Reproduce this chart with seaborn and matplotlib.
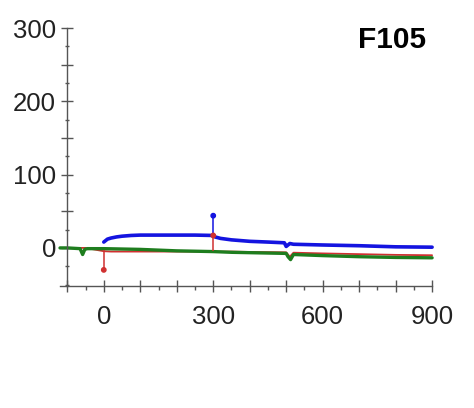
import matplotlib
matplotlib.use("Agg")
import matplotlib.pyplot as plt
import seaborn as sns
import pandas as pd
from matplotlib.ticker import MultipleLocator

# time (s) and signal values
blue_t = [0, 5, 10, 20, 35, 50, 75, 100, 150, 200, 250, 300, 305, 320, 350, 400, 450, 495, 500, 505, 510, 520, 600, 700, 800, 900]
blue_v = [8, 10, 12, 13.5, 15, 16, 17, 17.5, 17.5, 17.5, 17.5, 17, 15, 13, 11, 9, 8, 7, 2, 4, 6, 5, 4, 3, 1.5, 1]

red_t = [-120, -50, 0, 20, 50, 100, 200, 300, 350, 400, 500, 505, 510, 520, 600, 700, 800, 900]
red_v = [0, 0, -4.5, -5, -5, -5, -5, -5, -5, -5.5, -6, -9, -12, -6.5, -7.5, -8.5, -9.5, -10]

green_t = [-120, -100, -65, -58, -52, -45, 0, 50, 100, 150, 200, 300, 350, 400, 500, 505, 512, 520, 600, 700, 800, 900]
green_v = [0, 0, -1, -9, -2, -1, -1, -1.5, -2, -3, -4, -5, -6, -6.5, -7.5, -12, -16, -9, -10.5, -12, -13, -13.5]

# thin spikes: (time, from, to, colour)
spike_t = [0, 300, 300]
spike_from = [-3, 17, -4.5]
spike_to = [-30, 44, 17]
spike_c = ["#d03030", "#1414e0", "#d03030"]

x_ticks = [-100, 0, 100, 200, 300, 400, 500, 600, 700, 800, 900]
x_labels = ["", "0", "", "", "300", "", "", "600", "", "", "900"]
y_ticks = [0, 50, 100, 150, 200, 250, 300]
y_labels = ["0", "", "100", "", "200", "", "300"]
panel_label = "F105"

sns.set_theme(style="white")
plt.rcParams["font.family"] = ["Liberation Sans", "DejaVu Sans"]

fig = plt.figure(figsize=(4.74, 4.08), dpi=100)
ax = fig.add_axes([0.1266, 0.299, 0.785, 0.632])

blue = pd.DataFrame({"t": blue_t, "v": blue_v})
red = pd.DataFrame({"t": red_t, "v": red_v})
green = pd.DataFrame({"t": green_t, "v": green_v})

sns.lineplot(data=red, x="t", y="v", sort=False, estimator=None, color="#d03030", lw=1.3, ax=ax, clip_on=False)
sns.lineplot(data=green, x="t", y="v", sort=False, estimator=None, color="#1e7d1e", lw=2.4, ax=ax, clip_on=False)
sns.lineplot(data=blue, x="t", y="v", sort=False, estimator=None, color="#1414e0", lw=2.6, ax=ax, clip_on=False)
ax.vlines(spike_t, spike_from, spike_to, colors=spike_c, lw=1.1, zorder=4)
ax.scatter(spike_t, spike_to, c=spike_c, s=10, zorder=5, clip_on=False)

ax.set_xlim(-120, 900)
ax.set_ylim(-52, 300)

for s in ["top", "right"]:
    ax.spines[s].set_visible(False)
ax.spines["left"].set_position(("data", -100))
ax.spines["left"].set_bounds(-52, 300)
for s in ["left", "bottom"]:
    ax.spines[s].set_color("#555555")
    ax.spines[s].set_linewidth(1.0)

ax.set_xticks(x_ticks)
ax.set_xticklabels(x_labels)
ax.xaxis.set_minor_locator(MultipleLocator(50))
ax.set_yticks(y_ticks)
ax.set_yticklabels(y_labels)
ax.yaxis.set_minor_locator(MultipleLocator(25))

ax.tick_params(axis="x", which="major", direction="inout", length=9, width=1, color="#555555",
               labelsize=18.5, labelcolor="#222222", pad=9)
ax.tick_params(axis="x", which="minor", direction="out", length=3, width=1, color="#555555")
ax.tick_params(axis="y", which="major", direction="inout", length=8, width=1, color="#555555",
               labelsize=18.5, labelcolor="#222222", pad=4)
ax.tick_params(axis="y", which="minor", direction="inout", length=3.5, width=1, color="#555555")
ax.tick_params(bottom=True, left=True, which="both")

ax.set_xlabel("")
ax.set_ylabel("")
ax.grid(False)

fig.text(0.827, 0.902, panel_label, fontsize=21.5, fontweight="bold", color="black", ha="center", va="center")

fig.savefig("out.png", dpi=100)
